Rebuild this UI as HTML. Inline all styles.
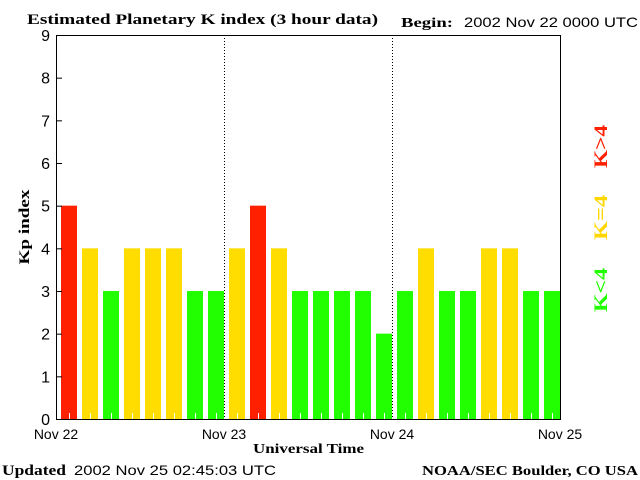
<!DOCTYPE html>
<html><head><meta charset="utf-8"><style>
body{margin:0;background:#fff;}
svg{display:block;}
.serif{font-family:"Liberation Serif",serif;font-weight:bold;}
.sans{font-family:"Liberation Sans",sans-serif;}
</style></head><body>
<svg id="c" width="640" height="480" xmlns="http://www.w3.org/2000/svg">
<rect width="640" height="480" fill="#fff"/>
<text class="serif" x="27" y="24" font-size="15" textLength="351" lengthAdjust="spacingAndGlyphs">Estimated Planetary K index (3 hour data)</text>
<text class="serif" x="401" y="27" font-size="14" textLength="52" lengthAdjust="spacingAndGlyphs">Begin:</text>
<text class="sans" x="464" y="27" font-size="14" textLength="174" lengthAdjust="spacingAndGlyphs">2002 Nov 22 0000 UTC</text>
<g id="bars"></g>
<g id="axes"></g>
<text class="serif" x="29" y="227" font-size="15" textLength="75" lengthAdjust="spacingAndGlyphs" transform="rotate(-90 29 227)" text-anchor="middle">Kp index</text>
<text class="serif" x="253" y="453" font-size="14" textLength="111" lengthAdjust="spacingAndGlyphs">Universal Time</text>
<text class="serif" x="2" y="475" font-size="15" textLength="64" lengthAdjust="spacingAndGlyphs">Updated</text>
<text class="sans" x="74" y="475" font-size="14" textLength="202" lengthAdjust="spacingAndGlyphs">2002 Nov 25 02:45:03 UTC</text>
<text class="serif" x="422" y="475" font-size="14" textLength="216" lengthAdjust="spacingAndGlyphs">NOAA/SEC Boulder, CO USA</text>
<text class="serif" x="607" y="168" font-size="19" fill="#ff2000" textLength="43" lengthAdjust="spacingAndGlyphs" transform="rotate(-90 607 168)">K&gt;4</text>
<text class="serif" x="607" y="240" font-size="19" fill="#ffd700" textLength="45" lengthAdjust="spacingAndGlyphs" transform="rotate(-90 607 240)">K=4</text>
<text class="serif" x="607" y="312" font-size="19" fill="#22ff00" textLength="44" lengthAdjust="spacingAndGlyphs" transform="rotate(-90 607 312)">K&lt;4</text>
</svg>
<script>
const values=[5,4,3,4,4,4,3,3, 4,5,4,3,3,3,3,2, 3,4,3,3,4,4,3,3];
const dayLabels=["Nov 22","Nov 23","Nov 24","Nov 25"];
const yTicks=[0,1,2,3,4,5,6,7,8,9];
const NS="http://www.w3.org/2000/svg";
const L=56,R=560,T=35,B=419;
const xs=i=>L+(R-L)*i/values.length;
const ys=v=>B-(B-T)*v/9;
const slot=(R-L)/values.length;
function mk(tag,attrs,parent){const e=document.createElementNS(NS,tag);for(const k in attrs)e.setAttribute(k,attrs[k]);parent.appendChild(e);return e;}
const bars=document.getElementById('bars'),axes=document.getElementById('axes');
values.forEach((v,i)=>{
  const col=v>4?"#ff2000":v===4?"#ffdd00":"#22ff00";
  const r=mk('rect',{x:xs(i)+5,y:ys(v),width:slot-5,height:B-ys(v),fill:col},bars);
  
  
  const t=mk('line',{x1:xs(i)+13.5,x2:xs(i)+13.5,y1:B-6,y2:B,stroke:"#fff","stroke-width":1},bars);
  
  
});
for(let d=1;d<dayLabels.length-1;d++){
  const x=L+(R-L)*d/(dayLabels.length-1)+0.5;
  const ln=mk('line',{x1:x,x2:x,y1:T,y2:B,stroke:"#000","stroke-dasharray":"1,2"},axes);
  
  
}
const frame=mk('rect',{x:L+0.5,y:T+0.5,width:R-L,height:B-T,fill:"none",stroke:"#000","stroke-width":1},axes);


yTicks.forEach(v=>{
  const y=ys(v);
  const tk=mk('line',{x1:L,x2:L+6,y1:y+0.5,y2:y+0.5,stroke:"#000"},axes);
  
  
  const tx=mk('text',{x:L-6,y:y+6,"font-size":16,"text-anchor":"end","font-family":"Liberation Sans, sans-serif"},axes);
  tx.textContent=v;
  
  
});
dayLabels.forEach((lab,d)=>{
  const x=L+(R-L)*d/(dayLabels.length-1);
  const tx=mk('text',{x:x,y:439,"font-size":14,"text-anchor":"middle","font-family":"Liberation Sans, sans-serif"},axes);
  tx.textContent=lab;
  
  
});
</script>
</body></html>
